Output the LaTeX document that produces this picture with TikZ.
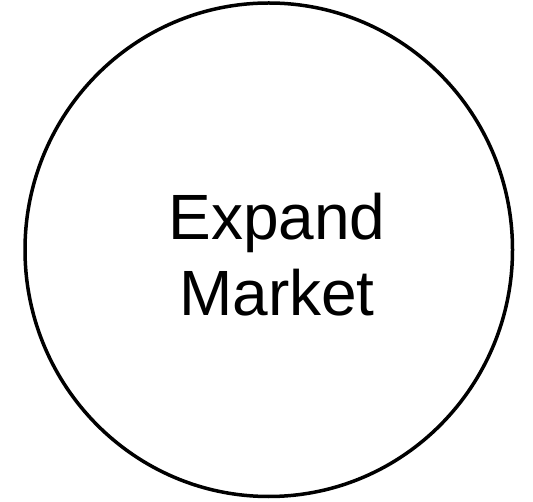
\documentclass[tikz,border=0pt]{standalone}
\usepackage{fontspec}
\setmainfont{Liberation Sans}
\usetikzlibrary{shapes.geometric}
\begin{document}
\begin{tikzpicture}[x=1pt,y=1pt,
  bubble/.style={ellipse,draw=black,line width=3.5pt,minimum width=487.5pt,minimum height=493.5pt,inner sep=0pt},
  lbl/.style={font=\fontsize{64}{76}\selectfont,align=center,text=black,inner sep=0pt}]
\useasboundingbox (0,0) rectangle (533,501);
\node[bubble] (c) at (268.75,251.25) {};
\node[lbl] (t) at (277,246) {Expand\\Market};
\end{tikzpicture}
\end{document}
